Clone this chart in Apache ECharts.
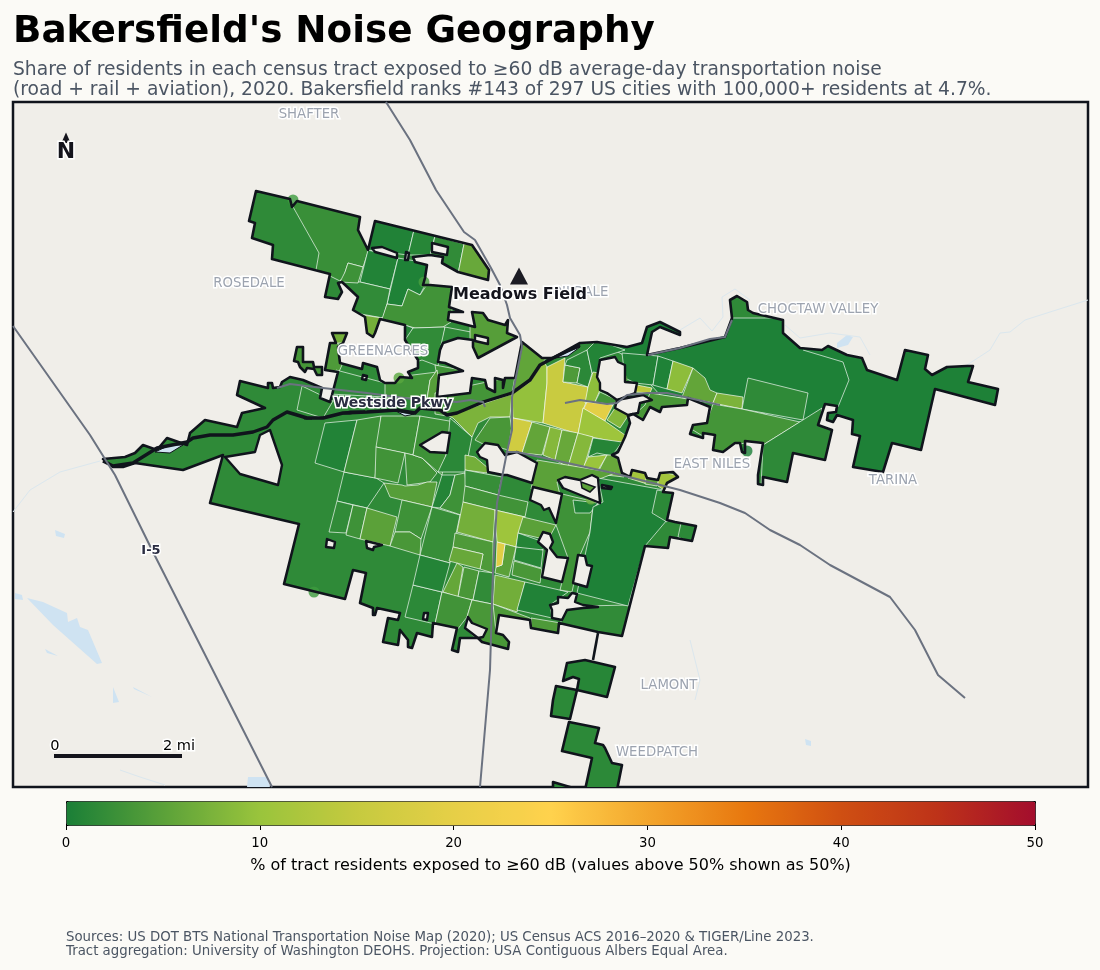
<!DOCTYPE html>
<html><head><meta charset="utf-8">
<style>html,body{margin:0;padding:0;background:#fbfaf6}#c{width:1100px;height:970px}</style>
<script src="https://cdn.jsdelivr.net/npm/echarts@6/dist/echarts.min.js"></script>
</head><body><div id="c"></div>
<script>
// Map-space coordinates: x east, y south.
const MAIN_OUTLINE=[[103,459],[125,457],[135,453],[143,445],[157,450],[167,438],[187,445],[190,433],[205,420],[237,427],[242,413],[265,408],[237,395],[240,381],[268,388],[268,383],[272,383],[273,388],[280,387],[282,382],[290,377],[303,380],[322,388],[320,398],[330,402],[332,395],[338,372],[325,370],[330,343],[336,343],[332,333],[347,333],[343,343],[338,347],[340,363],[362,369],[363,363],[377,367],[380,380],[385,383],[395,383],[400,377],[412,378],[408,372],[418,368],[418,360],[405,340],[405,325],[380,319],[375,333],[373,337],[367,333],[365,317],[353,310],[358,297],[342,282],[338,283],[342,292],[338,299],[325,297],[330,274],[272,259],[273,245],[252,238],[255,223],[249,221],[256,191],[290,199],[292,207],[297,201],[360,217],[358,230],[368,250],[375,221],[472,245],[489,270],[488,280],[458,272],[442,263],[443,257],[430,255],[413,257],[415,262],[427,265],[425,278],[423,285],[430,285],[452,287],[450,300],[449,307],[463,312],[449,312],[448,320],[475,327],[472,312],[483,313],[488,320],[505,325],[508,320],[507,333],[517,337],[478,358],[473,347],[473,340],[458,338],[443,343],[440,350],[438,362],[445,363],[463,371],[439,375],[437,397],[470,393],[472,378],[485,380],[487,388],[495,392],[495,378],[503,380],[503,388],[505,378],[515,378],[522,342],[542,358],[553,358],[580,343],[597,342],[627,347],[642,343],[647,327],[660,322],[680,332],[680,335],[660,327],[652,332],[647,355],[680,348],[725,337],[732,318],[730,300],[737,296],[747,302],[748,310],[753,313],[783,320],[783,333],[800,348],[822,350],[828,346],[847,355],[862,358],[867,370],[897,380],[905,350],[928,355],[925,369],[932,375],[947,367],[967,366],[973,366],[968,382],[998,389],[995,405],[935,389],[921,450],[892,443],[883,472],[853,467],[860,436],[852,434],[853,420],[837,415],[833,422],[827,420],[828,413],[836,412],[837,406],[825,404],[818,425],[832,430],[825,460],[793,453],[787,482],[763,477],[763,485],[758,484],[758,475],[763,443],[745,441],[745,453],[742,452],[740,443],[735,443],[723,452],[713,450],[715,435],[703,433],[703,438],[690,434],[693,425],[707,423],[710,407],[688,398],[687,405],[662,407],[660,412],[650,407],[643,420],[633,414],[628,416],[630,423],[625,437],[618,452],[612,455],[618,458],[622,473],[630,477],[632,470],[645,473],[647,478],[658,480],[660,473],[673,472],[678,477],[667,483],[663,492],[673,493],[667,520],[675,522],[696,526],[692,541],[670,537],[668,548],[645,546],[622,636],[598,632],[559,623],[558,633],[531,628],[530,620],[499,615],[496,633],[503,635],[509,642],[508,649],[482,642],[478,638],[460,638],[458,652],[452,650],[457,628],[433,623],[432,637],[417,633],[412,648],[408,647],[408,640],[400,630],[398,645],[383,642],[388,618],[398,620],[400,613],[377,608],[375,615],[373,615],[373,608],[360,603],[366,573],[353,570],[345,599],[284,584],[299,524],[210,503],[223,455],[183,470],[135,463],[123,467],[113,467]];
const WEST_ISLET=[[297,347],[303,347],[303,362],[313,362],[314,367],[322,367],[322,375],[317,375],[314,369],[307,368],[305,372],[300,367],[298,362],[294,361]];
const SOUTH_A=[[567,663],[585,660],[615,667],[607,697],[577,690],[579,679],[573,677],[563,681]];
const SOUTH_B=[[556,686],[577,690],[570,719],[551,716],[553,700]];
const SOUTH_C=[[569,722],[599,728],[595,743],[603,745],[605,748],[612,763],[622,765],[617,790],[585,790],[592,758],[562,751]];
const SOUTH_D=[[553,782],[580,790],[553,790]];
const LAND_SHAPES=[MAIN_OUTLINE,WEST_ISLET,SOUTH_A,SOUTH_B,SOUTH_C,SOUTH_D];
const LAND_VALUES=[1.6,3.4,1.0,1.4,1.4,1.4];

const TRACT_SHAPES=[
[[597,340],[660,318],[1000,318],[1000,490],[850,490],[760,410],[660,395],[625,356]],
[[292,205],[319,253],[316,270],[330,276],[342,282],[348,263],[363,267],[368,252],[365,215],[297,199]],
[[375,219],[414,230],[408,255],[368,250]],
[[414,230],[435,236],[430,255],[408,255]],
[[435,236],[464,244],[458,274],[430,257]],
[[464,244],[475,244],[492,272],[488,282],[458,274]],
[[368,250],[398,258],[390,289],[360,282]],
[[398,258],[427,263],[425,285],[420,295],[408,289],[402,306],[387,304]],
[[360,282],[390,289],[387,304],[383,318],[350,312],[355,295],[340,280]],
[[348,263],[363,267],[358,283],[340,282],[345,272]],
[[387,304],[402,306],[408,289],[420,295],[428,283],[454,285],[451,322],[443,327],[415,328],[382,319]],
[[363,315],[382,318],[375,338],[364,336]],
[[405,325],[413,328],[407,342],[403,342]],
[[413,328],[445,327],[442,348],[438,366],[422,360],[416,362],[405,340]],
[[445,327],[476,333],[475,342],[458,340],[441,345]],
[[470,310],[510,318],[520,337],[478,360],[470,345]],
[[435,365],[466,371],[437,377]],
[[327,343],[338,343],[342,365],[338,374],[323,372]],
[[330,331],[349,331],[345,343],[328,343]],
[[336,370],[385,383],[405,378],[385,397],[330,394]],
[[385,383],[405,376],[437,372],[430,380],[427,399],[385,397]],
[[437,370],[442,397],[427,399],[430,380]],
[[302,386],[333,401],[323,418],[297,410]],
[[325,423],[357,420],[344,472],[315,463]],
[[344,472],[376,478],[384,483],[367,508],[337,501]],
[[337,501],[353,505],[346,533],[329,532]],
[[353,505],[367,508],[360,539],[346,535]],
[[367,508],[397,517],[390,546],[360,539]],
[[357,420],[381,416],[375,478],[344,472]],
[[381,416],[420,416],[413,455],[376,447]],
[[376,447],[405,453],[398,483],[385,480],[375,478]],
[[413,455],[422,458],[437,473],[430,482],[407,485],[405,453]],
[[384,483],[402,485],[405,486],[418,485],[427,482],[437,482],[432,507],[402,500],[390,497]],
[[402,500],[432,507],[421,539],[410,532],[395,532]],
[[395,532],[410,532],[421,539],[420,555],[390,546]],
[[432,507],[460,515],[450,563],[420,555]],
[[442,475],[455,475],[450,495],[440,508],[432,507]],
[[455,475],[465,473],[467,497],[461,515],[440,508],[450,495]],
[[420,416],[455,422],[450,433],[442,475],[438,472],[422,458],[413,455]],
[[450,418],[472,437],[465,472],[438,472],[447,453]],
[[447,415],[512,392],[510,417],[490,417],[478,423],[472,437],[453,418]],
[[475,440],[490,418],[510,417],[513,440],[508,450],[498,447],[485,445]],
[[513,418],[543,423],[547,383],[547,367],[542,358],[528,383],[512,393]],
[[547,367],[565,358],[563,382],[588,387],[587,400],[583,410],[578,434],[543,423],[547,383]],
[[565,365],[580,368],[577,383],[563,382]],
[[567,360],[587,350],[592,373],[588,387],[577,383],[580,368],[565,365]],
[[587,350],[597,340],[625,350],[600,358],[597,378],[592,373]],
[[593,372],[599,373],[600,390],[595,402],[585,403],[588,387]],
[[600,392],[617,400],[613,405],[595,402]],
[[587,402],[613,405],[605,421],[583,410]],
[[615,408],[630,413],[620,428],[607,420]],
[[583,408],[605,421],[625,435],[624,444],[578,434]],
[[513,418],[532,422],[522,453],[508,452]],
[[532,422],[550,427],[542,455],[522,453]],
[[550,427],[562,430],[555,460],[543,455]],
[[562,430],[578,433],[568,467],[555,460]],
[[578,433],[593,437],[587,457],[583,470],[568,467]],
[[593,438],[622,442],[612,456],[597,453],[588,457]],
[[588,457],[607,455],[597,472],[583,468]],
[[607,455],[616,455],[624,477],[597,474]],
[[630,468],[647,473],[647,484],[628,478]],
[[647,472],[660,476],[657,486],[645,484]],
[[658,471],[680,476],[667,492],[658,486]],
[[537,460],[615,473],[597,480],[580,482],[565,479],[557,482],[560,495],[531,489]],
[[465,455],[475,457],[488,468],[487,473],[465,470]],
[[465,470],[502,477],[498,495],[465,486]],
[[465,486],[498,495],[528,502],[525,517],[495,510],[463,502]],
[[463,502],[495,510],[493,542],[457,532]],
[[495,510],[525,517],[518,535],[516,547],[497,542]],
[[523,517],[556,525],[548,540],[518,533]],
[[518,533],[538,540],[545,548],[538,552],[516,547]],
[[516,547],[543,550],[541,568],[514,560]],
[[514,561],[542,569],[540,583],[512,575]],
[[455,533],[493,542],[493,573],[480,569],[483,554],[453,547]],
[[453,547],[483,554],[480,569],[449,561]],
[[457,563],[463,567],[458,597],[443,592]],
[[464,567],[479,571],[473,600],[458,597]],
[[479,571],[493,573],[492,604],[473,600]],
[[495,575],[525,582],[517,612],[493,604]],
[[525,582],[568,592],[550,605],[552,618],[517,610]],
[[413,585],[442,592],[435,624],[405,617]],
[[420,555],[450,563],[442,592],[413,585]],
[[442,592],[472,600],[467,617],[457,630],[435,624]],
[[472,600],[492,604],[498,617],[497,630],[510,640],[510,650],[482,644],[478,640],[465,628],[467,617]],
[[493,604],[530,618],[530,622],[499,617],[496,632]],
[[531,618],[561,623],[560,635],[531,630]],
[[567,608],[583,606],[630,605],[624,640],[598,634],[560,624]],
[[562,494],[600,503],[593,507],[590,532],[580,555],[572,592],[560,590],[568,558],[556,525]],
[[573,500],[598,503],[590,513],[575,513]],
[[598,478],[675,492],[667,520],[645,546],[628,606],[577,593],[590,532],[593,507],[603,502]],
[[657,490],[675,493],[667,522],[652,513]],
[[681,523],[698,526],[692,543],[678,537]],
[[622,353],[658,356],[653,385],[635,383],[625,378]],
[[658,356],[673,361],[667,389],[653,385]],
[[673,361],[693,368],[682,393],[667,389]],
[[693,368],[705,378],[710,390],[717,393],[713,403],[682,397]],
[[717,393],[743,397],[742,409],[713,403]],
[[748,378],[808,393],[803,420],[742,409]],
[[637,385],[652,388],[650,393],[635,392]],
[[645,405],[650,393],[713,403],[688,398],[687,407],[662,409],[660,414],[650,409],[643,422],[633,416]],
[[713,404],[742,409],[800,422],[763,445],[745,443],[735,445],[723,454],[711,452],[713,437],[701,435],[688,427],[707,421]],
[[763,445],[822,408],[820,425],[835,430],[828,462],[793,455],[789,485],[761,487]],
[[570,342],[586,334],[587,343]],
[[505,544],[516,547],[509,577],[495,573],[496,567],[502,565]],
[[497,542],[505,544],[502,565],[496,567]],
[[522,340],[546,358],[530,382],[512,394],[513,376]],
[[435,393],[515,376],[512,394],[447,416],[435,414]]
];
const TRACT_VALUES=[0.3,2.4,0.5,1,1.8,6,0.6,0.4,1.8,2.8,3,7,0.8,1.8,1.6,4.6,3,4,7,1.6,3,4.6,1.8,0.6,1,1.8,2.8,5,2.6,2.8,3,3,4.6,2.8,3.6,2.2,0.8,2.8,2.8,1.3,7.6,3.6,9.5,15.5,4,1.3,0.7,9,3,19.5,8.3,10.5,16.5,5.6,8.3,6,8.3,0.9,10,6,11,5,11,5,7,2.2,3,7,10.5,5,0.8,1,3.6,4,6,5.8,3.6,1.8,6.8,0.5,1.4,0.8,3,3.6,4,4,1.8,2.8,0.5,0.3,1.4,1.4,0.5,0.4,9,5.6,7.6,1.6,14,3.6,3.2,1.5,14,5,19,5.5,3.2];
const TRACT_LINE_EAST=[[803,350],[843,362],[849,380],[838,407]];

const HOLE_SHAPES=[
[[270,430],[282,465],[278,485],[240,474],[225,457],[255,452],[260,435]],
[[372,248],[382,247],[397,253],[397,258],[375,252]],
[[406,252],[409,253],[408,260],[405,260]],
[[432,243],[448,247],[447,255],[432,252]],
[[475,335],[488,338],[488,344],[475,341]],
[[420,445],[442,432],[450,433],[447,453],[430,452]],
[[600,360],[615,357],[618,362],[625,365],[625,382],[637,383],[635,393],[617,400],[607,393],[600,390],[600,383],[597,377]],
[[617,400],[643,395],[652,400],[640,403],[638,413],[628,415],[615,408]],
[[477,452],[485,443],[498,445],[505,455],[517,452],[537,463],[532,483],[507,475],[503,475],[488,472],[487,460],[480,457]],
[[533,487],[562,494],[556,523],[549,508],[544,510],[541,505],[530,500]],
[[558,480],[565,477],[580,480],[592,475],[598,478],[600,503],[563,488]],
[[602,485],[612,487],[611,489],[602,488]],
[[543,532],[550,534],[553,542],[550,548],[557,557],[568,558],[562,582],[542,577],[547,550],[538,542]],
[[578,555],[585,556],[587,565],[592,566],[587,587],[573,583]],
[[550,605],[558,603],[558,597],[568,598],[572,593],[577,594],[575,602],[583,605],[598,607],[583,608],[567,610],[562,620],[552,618],[552,610]],
[[327,539],[335,542],[334,548],[326,547]],
[[366,541],[382,545],[374,547],[373,550],[367,548]],
[[424,613],[428,613],[427,620],[423,619]],
[[468,617],[472,623],[487,629],[483,637],[478,638],[465,628]],
[[363,375],[367,376],[366,380],[362,379]]
];
const ISLAND_SHAPES=[[[581,482],[595,487],[590,492],[582,488]]];
const ISLAND_VALUES=[5];

const WATER_SHAPES=[
[[27,598],[43,602],[67,613],[68,622],[77,618],[80,627],[88,630],[102,663],[97,664],[53,625]],
[[15,593],[22,595],[23,600],[15,599]],
[[45,649],[58,656],[47,653]],
[[113,687],[119,702],[113,703]],
[[133,687],[152,697],[134,689]],
[[248,777],[267,777],[270,787],[247,787]],
[[837,343],[847,335],[853,337],[848,345],[837,348]],
[[55,530],[65,534],[64,538],[56,536]],
[[805,739],[811,741],[811,746],[806,745]]
];
const STREAM_A=[[13,512],[30,490],[60,472],[100,461]];
const STREAM_B=[[680,330],[700,318],[712,331],[723,317],[722,297],[735,289],[750,300]];
const STREAM_C=[[967,365],[990,350],[1000,333],[1010,332],[1025,320],[1050,312],[1088,300]];
const STREAM_D=[[120,770],[140,777],[165,785]];
const STREAM_E=[[690,640],[700,680],[695,700]];
const STREAM_F=[[785,325],[800,338],[830,333],[860,337],[870,355]];
const STREAMS=[STREAM_A,STREAM_B,STREAM_C,STREAM_D,STREAM_E,STREAM_F];

const RIVER=[[103,461],[113,466],[133,463],[157,448],[187,442],[193,438],[210,435],[233,435],[253,432],[267,427],[273,420],[287,412],[307,418],[323,418],[343,413],[367,412],[397,410],[415,413],[420,408],[440,410],[447,415],[457,413],[483,402],[512,393],[530,380],[540,365],[553,358],[580,345]];
const RIVER_LENS=[[[155,452],[170,445],[183,445],[170,453]],[[555,358],[567,352],[580,347],[568,356]],[[338,414],[350,411],[365,411],[350,414]],[[396,411],[405,413],[414,414],[405,416]],[[304,417],[312,419],[304,419]]];

const ROAD_I5=[[13,326],[90,435],[115,475],[152,550],[272,787]];
const ROAD_99=[[386,102],[410,140],[436,190],[464,232],[475,240],[491,268],[500,285],[507,305],[510,318],[520,335],[522,347],[512,397],[512,430],[507,452],[497,503],[493,570],[490,670],[480,787]];
const ROAD_58=[[507,452],[517,452],[613,473],[680,490],[720,503],[745,513],[770,530],[800,545],[830,565],[890,597],[915,630],[938,675],[965,698]];
const ROAD_178=[[565,403],[580,400],[607,404],[617,403],[627,395],[647,393],[667,393],[720,405]];
const ROAD_NE=[[648,355],[680,348],[710,339],[725,337],[732,320]];
const ROAD_WEST=[[277,388],[290,384],[323,388],[367,393],[420,400],[457,402],[470,400],[483,402],[485,407]];
const ROADS=[ROAD_I5,ROAD_99,ROAD_58,ROAD_178,ROAD_NE,ROAD_WEST];

const BLOBS=[[293,200],[314,592],[424,282],[399,378],[622,379],[591,499],[747,451]];
const BLOB_COLORS=['#3d9b3f','#3d9b3f','#4aa040','#5aa83f','#5aa83f','#6fb040','#1a7f37'];

const TOWN_NAMES=['SHAFTER','ROSEDALE','GREENACRES','OILDALE','CHOCTAW VALLEY','EAST NILES','TARINA','LAMONT','WEEDPATCH'];
const TOWN_POS=[[309,115],[249,284],[383,352],[580,293],[818,310],[712,465],[893,481],[669,686],[657,753]];
const BOLD_NAMES=['Westside Pkwy','Meadows Field','I-5'];
const BOLD_POS=[[393,403],[520,295],[151,551]];
const BOLD_SIZES=[14,16,13];
const BOLD_COLORS=['#2b2d42','#14141c','#2b2d42'];
const AIRPORT=[519,276];
const NORTH_ARROW=[66,137];
const NORTH_STEM=[[66,137],[66,143]];
const NORTH_LABEL=[66,152];
const SCALE_BAR=[[54,756],[182,756]];
const SCALE_LABELS=['0','2 mi'];
const SCALE_POS=[[55,746],[179,746]];

const COLOR_STOPS=['#1a7f37','#5ba139','#9ac43c','#c6ca3f','#e6cf47','#ffd24d','#f3a52c','#e8780f','#cf4f12','#bd3219','#a30d2d'];
const TICKS_INTERVAL=10;

const BG='#f0eee9', INK='#10141c', FONT='"DejaVu Sans"';
const WHITE_LINE='rgba(255,255,255,0.72)';
const SOLID={opacity:1};

function poly(pts,api,style,clipPts){
  const el={type:'polygon',shape:{points:pts.map(p=>api.coord(p))},style};
  if(clipPts) el.clipPath={type:'polygon',shape:{points:clipPts.map(p=>api.coord(p))}};
  return el;
}
function idx(a){return a.map((_,i)=>[0,i]);}
function mapXY(o){return Object.assign({xAxisIndex:0,yAxisIndex:0,silent:true,clip:true},o);}

const series=[];
series.push(mapXY({type:'custom',z:2,data:idx(WATER_SHAPES),renderItem:(p,api)=>poly(WATER_SHAPES[api.value(1)],api,{fill:'#cfe3f2'})}));
STREAMS.forEach(s=>series.push(mapXY({type:'line',z:2,data:s,showSymbol:false,symbol:'none',lineStyle:{color:'#dbe7ee',width:1}})));
const iLand=series.length;
series.push(mapXY({type:'custom',z:3,data:LAND_VALUES.map((v,i)=>[v,i]),renderItem:(p,api)=>poly(LAND_SHAPES[api.value(1)],api,{fill:api.visual('color')})}));
const iTract=series.length;
series.push(mapXY({type:'custom',z:4,data:TRACT_VALUES.map((v,i)=>[v,i]),renderItem:(p,api)=>poly(TRACT_SHAPES[api.value(1)],api,{fill:api.visual('color'),stroke:WHITE_LINE,lineWidth:0.9},MAIN_OUTLINE)}));
series.push(mapXY({type:'line',z:4,data:TRACT_LINE_EAST,symbol:'none',lineStyle:{color:WHITE_LINE,width:0.9}}));
series.push(mapXY({type:'scatter',z:5,symbolSize:11,data:BLOBS.map((b,i)=>({value:b,itemStyle:{color:BLOB_COLORS[i]}}))}));
series.push(mapXY({type:'custom',z:6,data:idx(HOLE_SHAPES),renderItem:(p,api)=>poly(HOLE_SHAPES[api.value(1)],api,{fill:BG,stroke:INK,lineWidth:2.4,lineJoin:'round'})}));
const iIsland=series.length;
series.push(mapXY({type:'custom',z:7,data:ISLAND_VALUES.map((v,i)=>[v,i]),renderItem:(p,api)=>poly(ISLAND_SHAPES[api.value(1)],api,{fill:api.visual('color'),stroke:INK,lineWidth:1.5})}));
series.push(mapXY({type:'custom',z:7,data:idx(LAND_SHAPES),renderItem:(p,api)=>poly(LAND_SHAPES[api.value(1)],api,{fill:'none',stroke:INK,lineWidth:2.6,lineJoin:'round'})}));
series.push(mapXY({type:'line',z:7,data:[[598,633],[593,660]],symbol:'none',lineStyle:{color:INK,width:2.6}}));
series.push(mapXY({type:'line',z:8,data:RIVER,symbol:'none',lineStyle:{color:INK,width:3.4,join:'round'}}));
series.push(mapXY({type:'custom',z:8,data:idx(RIVER_LENS),renderItem:(p,api)=>poly(RIVER_LENS[api.value(1)],api,{fill:'#cfe3f2',stroke:INK,lineWidth:1})}));
ROADS.forEach(r=>series.push(mapXY({type:'line',z:9,data:r,symbol:'none',lineStyle:{color:'#6b7280',width:2,join:'round'}})));
const halo={textBorderColor:'#ffffff',textBorderWidth:3,fontFamily:FONT};
series.push(mapXY({type:'scatter',z:10,symbolSize:0,itemStyle:SOLID,data:TOWN_POS.map((p,i)=>({value:p,label:{formatter:TOWN_NAMES[i]}})),
  label:Object.assign({show:true,position:'inside',color:'#9ca3af',fontSize:13.3},halo)}));
series.push(mapXY({type:'scatter',z:11,symbol:'triangle',symbolSize:[18,17],itemStyle:{color:'#1c1c24',opacity:1},data:[AIRPORT]}));
series.push(mapXY({type:'scatter',z:11,symbolSize:0,itemStyle:SOLID,data:BOLD_POS.map((p,i)=>({value:p,label:{formatter:BOLD_NAMES[i],fontSize:BOLD_SIZES[i],color:BOLD_COLORS[i]}})),
  label:Object.assign({show:true,position:'inside',fontWeight:'bold'},halo)}));
series.push(mapXY({type:'line',z:11,data:NORTH_STEM,symbol:'none',lineStyle:{color:'#14141c',width:2}}));
series.push(mapXY({type:'scatter',z:11,symbol:'triangle',symbolSize:[8,9],itemStyle:{color:'#14141c',opacity:1},data:[NORTH_ARROW]}));
series.push(mapXY({type:'scatter',z:11,symbolSize:0,itemStyle:SOLID,data:[{value:NORTH_LABEL,label:{formatter:'N'}}],
  label:Object.assign({show:true,position:'inside',color:'#14141c',fontWeight:'bold',fontSize:22},halo)}));
series.push(mapXY({type:'line',z:11,data:SCALE_BAR,symbol:'none',lineStyle:{color:'#14141c',width:4,cap:'butt'}}));
series.push(mapXY({type:'scatter',z:11,symbolSize:0,itemStyle:SOLID,data:SCALE_POS.map((p,i)=>({value:p,label:{formatter:SCALE_LABELS[i]}})),
  label:Object.assign({show:true,position:'inside',color:'#000',fontSize:14.6},halo)}));
series.push({type:'scatter',xAxisIndex:1,yAxisIndex:1,data:[],silent:true});

const chart=echarts.init(document.getElementById('c'),null,{renderer:'canvas'});
chart.setOption({
  animation:false,backgroundColor:'#fbfaf6',
  textStyle:{fontFamily:FONT},
  title:[
    {text:"Bakersfield's Noise Geography",left:13,top:14,padding:0,textStyle:{fontFamily:FONT,fontWeight:'bold',fontSize:37.3,color:'#000'}},
    {text:"Share of residents in each census tract exposed to ≥60 dB average-day transportation noise\n(road + rail + aviation), 2020. Bakersfield ranks #143 of 297 US cities with 100,000+ residents at 4.7%.",left:13,top:60,padding:0,textStyle:{fontFamily:FONT,fontWeight:'normal',fontSize:18.7,lineHeight:20,color:'#4b5563'}},
    {text:"Sources: US DOT BTS National Transportation Noise Map (2020); US Census ACS 2016–2020 & TIGER/Line 2023.\nTract aggregation: University of Washington DEOHS. Projection: USA Contiguous Albers Equal Area.",left:66,top:930,padding:0,textStyle:{fontFamily:FONT,fontWeight:'normal',fontSize:13.33,lineHeight:14.5,color:'#4b5563'}}
  ],
  grid:[
    {left:13,top:102,width:1075,height:685,show:true,backgroundColor:BG,borderColor:INK,borderWidth:2.5},
    {left:66,top:801,width:969,height:24,show:false}
  ],
  xAxis:[
    {type:'value',gridIndex:0,min:13,max:1088,show:false},
    {type:'value',gridIndex:1,min:0,max:50,interval:TICKS_INTERVAL,position:'bottom',
     axisLine:{show:false},axisTick:{show:true,length:5,lineStyle:{color:'#000',width:1}},splitLine:{show:false},
     axisLabel:{color:'#000',fontSize:13.3,margin:12,fontFamily:FONT},
     name:'% of tract residents exposed to ≥60 dB (values above 50% shown as 50%)',nameLocation:'middle',nameGap:33,
     nameTextStyle:{color:'#000',fontSize:16,fontFamily:FONT}}
  ],
  yAxis:[
    {type:'value',gridIndex:0,min:102,max:787,inverse:true,show:false},
    {type:'value',gridIndex:1,min:0,max:1,show:false}
  ],
  visualMap:{type:'continuous',min:0,max:50,dimension:0,seriesIndex:[iLand,iTract,iIsland],orient:'horizontal',
    left:66,top:801,itemWidth:24,itemHeight:969,padding:0,calculable:false,realtime:false,text:null,showLabel:false,
    borderColor:'#000',borderWidth:1,inRange:{color:COLOR_STOPS},textStyle:{fontSize:0},hoverLink:false},
  series
});
</script></body></html>
